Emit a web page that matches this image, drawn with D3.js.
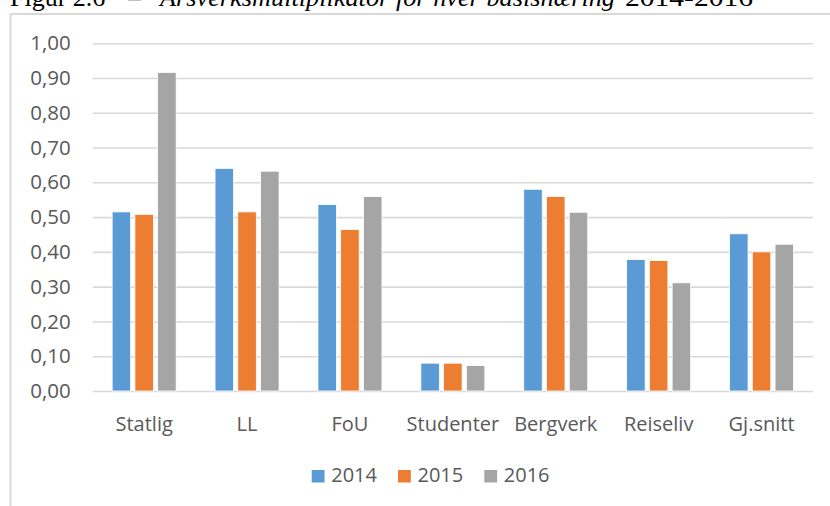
<!DOCTYPE html>
<html>
<head>
<meta charset="utf-8">
<script src="https://cdn.jsdelivr.net/npm/d3@7"></script>
<style>
  body { margin: 0; background: #fff; }
  svg { display: block; }
</style>
</head>
<body>
<svg></svg>
<script>
let categories = ["Statlig", "LL", "FoU", "Studenter", "Bergverk", "Reiseliv", "Gj.snitt"];
let years = ["2014", "2015", "2016"];
let values2014 = [0.515, 0.640, 0.536, 0.080, 0.580, 0.378, 0.452];
let values2015 = [0.508, 0.515, 0.464, 0.080, 0.559, 0.375, 0.400];
let values2016 = [0.916, 0.632, 0.559, 0.073, 0.514, 0.311, 0.422];
let yTicks = [0, 0.1, 0.2, 0.3, 0.4, 0.5, 0.6, 0.7, 0.8, 0.9, 1.0];
let colors = ["#5b9bd5", "#ed7d31", "#a5a5a5"];

let series = [values2014, values2015, values2016];

let w = 830;
let h = 506;
let svg = d3.select('svg').attr('width', w).attr('height', h);

// title, top half cut off by the page edge like in the scan
let title = svg.append('text')
    .attr('y', 6)
    .attr('font-family', 'Liberation Serif, serif')
    .attr('font-size', 26)
    .attr('fill', '#000');
title.append('tspan').attr('x', 10).text('Figur 2.6');
title.append('tspan').attr('x', 128).text('–');
title.append('tspan').attr('x', 160).attr('font-style', 'italic')
    .attr('textLength', 455).attr('lengthAdjust', 'spacingAndGlyphs')
    .text('Årsverksmultiplikator for hver basisnæring');
title.append('tspan').attr('x', 625)
    .attr('textLength', 128).attr('lengthAdjust', 'spacingAndGlyphs')
    .text('2014-2016');

// chart frame
svg.append('rect')
    .attr('x', 10.5)
    .attr('y', 14)
    .attr('width', 900)
    .attr('height', 600)
    .attr('fill', 'none')
    .attr('stroke', '#d9d9d9')
    .attr('stroke-width', 2);

let plotLeft = 92.7;
let plotRight = 813;
let plotTop = 43.2;
let plotBottom = 391;

let xScale = d3.scaleBand()
    .domain(categories)
    .range([plotLeft, plotRight])
    .padding(0);

let groupWidth = 64;
let xInner = d3.scaleBand()
    .domain(years)
    .range([0, groupWidth])
    .paddingInner(0.187)
    .paddingOuter(0);

let yScale = d3.scaleLinear()
    .domain([0, 1])
    .range([plotBottom, plotTop]);

let fmt = d => d3.format('.2f')(d).replace('.', ',');

// gridlines
let yAxis = d3.axisLeft(yScale)
    .tickValues(yTicks)
    .tickSize(-(plotRight - plotLeft))
    .tickPadding(22)
    .tickFormat(fmt);

let gy = svg.append('g')
    .attr('transform', 'translate(' + plotLeft + ', 0)')
    .call(yAxis);
gy.select('.domain').remove();
gy.selectAll('.tick line')
    .attr('stroke', '#d9d9d9')
    .attr('stroke-width', 1.6);
gy.selectAll('.tick text')
    .attr('font-family', 'Open Sans, sans-serif')
    .attr('font-size', 20.5)
    .attr('fill', '#595959');

// bars
let groups = svg.append('g')
    .selectAll('g')
    .data(years)
    .enter()
    .append('g')
    .attr('fill', (d, i) => colors[i]);

groups.selectAll('rect')
    .data((d, i) => series[i].map((v, j) => ({ year: d, cat: categories[j], v: v })))
    .enter()
    .append('rect')
    .attr('x', d => xScale(d.cat) + (xScale.bandwidth() - groupWidth) / 2 + xInner(d.year))
    .attr('y', d => yScale(d.v))
    .attr('width', xInner.bandwidth())
    .attr('height', d => yScale(0) - yScale(d.v))
    .attr('stroke', '#fff')
    .attr('stroke-width', 0.8);

// category labels
let xAxis = d3.axisBottom(xScale)
    .tickSize(0)
    .tickPadding(0);
let gx = svg.append('g')
    .attr('transform', 'translate(0, ' + plotBottom + ')')
    .call(xAxis);
gx.select('.domain').remove();
gx.selectAll('.tick text')
    .attr('dy', null)
    .attr('y', 40)
    .attr('font-family', 'Open Sans, sans-serif')
    .attr('font-size', 20)
    .attr('fill', '#595959');

// legend
let legendX = d3.scaleBand()
    .domain(years)
    .range([311.7, 311.7 + 3 * 86.3]);

let legend = svg.append('g')
    .selectAll('g')
    .data(years)
    .enter()
    .append('g')
    .attr('transform', d => 'translate(' + legendX(d) + ', 470)');

legend.append('rect')
    .attr('width', 12.8)
    .attr('height', 12.5)
    .attr('fill', (d, i) => colors[i]);

legend.append('text')
    .attr('x', 19.5)
    .attr('y', 12.3)
    .attr('font-family', 'Open Sans, sans-serif')
    .attr('font-size', 20)
    .attr('fill', '#595959')
    .text(d => d);
</script>
</body>
</html>
